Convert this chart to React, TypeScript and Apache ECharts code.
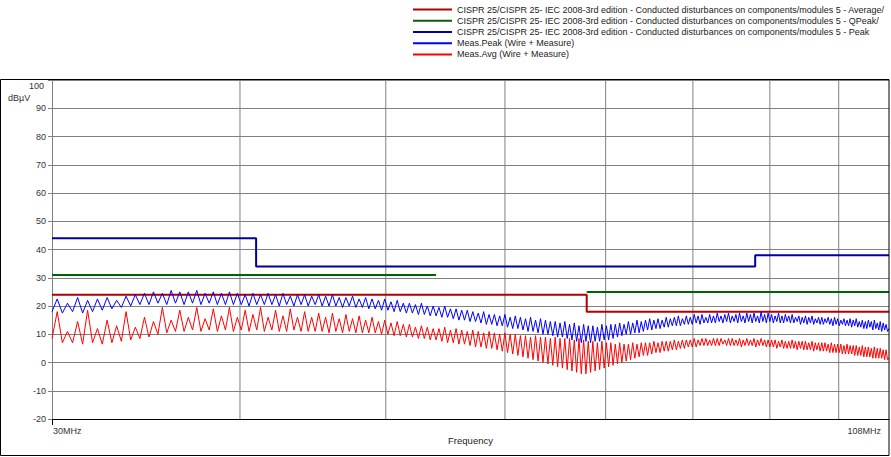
import React, { useEffect, useRef } from 'react';
import * as echarts from 'echarts';

// Sweep of the receiver: first frequency and step (MHz)
const SWEEP_START_MHZ = 30;
const SWEEP_STEP_MHZ = 0.24;

// Meas.Peak (Wire + Measure) in dBµV, one value per sweep step
const MEAS_PEAK = [
  18, 22.5, 17.5, 21, 18, 23, 17.5, 22, 18, 22.5,
  18.5, 23, 19, 22, 19.5, 23.5, 20, 24, 20.5, 24.5,
  20.5, 25, 21, 24.5, 20.5, 25.5, 21, 25, 20.5, 25,
  21, 25.5, 20.5, 24.5, 21, 25, 20.5, 24.5, 20.5, 25,
  20.5, 24.5, 20.5, 24, 20, 24.5, 20.5, 24, 20.5, 24.5,
  20.5, 24, 20, 24.5, 20.5, 23.5, 20, 24, 20.5, 24,
  20, 23.5, 20.5, 24, 20, 23.5, 20, 24, 20, 23,
  19.5, 23, 20, 23.5, 19.5, 22.5, 19.5, 23, 19, 22.5,
  19, 22, 18.5, 22.5, 18.5, 21.5, 18, 22, 18, 21,
  17.5, 21, 17.5, 20.5, 17, 21, 17, 20, 16.5, 20,
  16.5, 19.5, 16, 20, 16, 19, 15.5, 19, 15, 18.5,
  15, 18.5, 14.5, 18, 14.5, 17.5, 14, 18, 13.5, 17,
  13.5, 17, 13, 16.5, 13, 17, 12.5, 16, 12, 16.5,
  12, 16, 11.5, 15.5, 11, 16, 11, 15, 10.5, 15.5,
  10, 15, 10, 14.5, 9.5, 14.5, 9, 14, 9, 14.5,
  8.5, 13.5, 8, 14, 7.5, 13, 7, 13.5, 7.5, 13,
  7, 13, 7.5, 12.5, 7.5, 13.5, 8, 13, 8, 13.5,
  8.5, 13.5, 9, 14, 9.5, 13.5, 10, 14.5, 10, 14,
  10.5, 15, 10.5, 14.5, 11, 15, 11.5, 15.5, 11.5, 15,
  12, 15.5, 12, 15, 12.5, 16, 12.5, 15.5, 13, 16,
  13, 16.5, 13, 15.5, 13.5, 16.5, 13.5, 16, 13.5, 17,
  14, 16.5, 13.5, 17, 14, 16, 14, 17, 14, 16.5,
  14, 17.5, 14.5, 16.5, 14, 17, 14.5, 17.5, 14, 16.5,
  14.5, 17, 14, 17.5, 14.5, 16.5, 14, 17.5, 14.5, 17,
  14, 17.5, 14.5, 16.5, 14, 18, 14.5, 17, 14, 17.5,
  14.5, 17, 14, 16.5, 14.5, 17.5, 14, 16.5, 14, 17,
  14.5, 16.5, 14, 17, 14, 16, 14.5, 16.5, 13.5, 16,
  14, 16.5, 13.5, 16, 14, 16.5, 13.5, 15.5, 14, 16,
  13.5, 16, 13.5, 15.5, 14, 16, 13.5, 15.5, 13, 16,
  13.5, 15.5, 13, 15, 13.5, 15.5, 13, 15, 13, 15.5,
  12.5, 15, 13, 15.5, 12.5, 14.5, 12.5, 15, 12, 14.5,
  12, 15, 12.5, 14.5, 11.5, 15, 12, 14, 11.5, 14.5,
  11, 14, 11.5, 13.5, 11, 12,
];

// Meas.Avg (Wire + Measure) in dBµV, one value per sweep step
const MEAS_AVG = [
  8.5, 18, 7, 11, 7, 14.5, 6.5, 18.5, 7, 12,
  6.5, 15, 7, 13, 7.5, 18, 8, 12.5, 8.5, 16,
  9, 14.5, 10, 19.5, 10.5, 15, 11, 18.5, 11, 16,
  11.5, 19.5, 11, 15.5, 11.5, 19, 11, 16.5, 11.5, 19.5,
  11, 16, 11.5, 18.5, 11, 17, 11.5, 19.5, 11, 16,
  11.5, 18.5, 11, 16.5, 11, 19, 11.5, 16, 11, 18,
  11, 16, 11, 17.5, 11, 16, 10.5, 17.5, 11, 15.5,
  10.5, 17, 11, 15.5, 10.5, 16.5, 10.5, 15, 10.5, 16,
  10.5, 14.5, 10, 15, 10, 14, 9.5, 14.5, 9.5, 13.5,
  9, 13.5, 9, 12.5, 8.5, 13, 8.5, 12.5, 8, 12,
  8, 12, 7.5, 12.5, 7, 11.5, 7, 12, 6.5, 11.5,
  6.5, 11, 6, 11.5, 5.5, 11, 5.5, 10.5, 5, 11,
  5, 10.5, 4.5, 10, 4, 10.5, 3.5, 10, 3, 10,
  2.5, 9.5, 2, 9.5, 1.5, 9, 1, 9.5, 0.5, 9,
  0, 9, -0.5, 8.5, -1, 9, -1.5, 8.5, -2, 8.5,
  -2.5, 8.5, -3, 8, -3.5, 8.5, -4, 8, -4, 7.5,
  -3.5, 7.5, -3, 7, -2.5, 7.5, -2, 7, -1.5, 7,
  -1, 6.5, -0.5, 7, 0, 6.5, 0.5, 6.5, 1, 7,
  1.5, 6.5, 2, 7, 2.5, 7, 2.5, 7, 3, 7.5,
  3.5, 7, 3.5, 7.5, 4, 7.5, 4, 7.5, 4.5, 8,
  4.5, 7.5, 5, 8, 5, 8, 5.5, 8, 5.5, 8.5,
  5.5, 8, 6, 8.5, 6, 8.5, 6, 8, 6, 8.5,
  6, 8.5, 6, 8.5, 6.5, 8, 6, 8.5, 6, 8.5,
  6, 8, 6, 8.5, 5.5, 8, 6, 8.5, 6, 8,
  6, 8.5, 5.5, 8, 6, 8.5, 6, 8, 5.5, 8,
  5.5, 8, 5.5, 8, 5, 7.5, 5.5, 8, 5, 7.5,
  5, 7.5, 5, 8, 5, 7.5, 4.5, 7.5, 5, 7.5,
  4.5, 7.5, 4.5, 7, 4.5, 7.5, 4, 7, 4.5, 7,
  4, 7, 4, 7, 4, 6.5, 3.5, 7, 3.5, 6.5,
  3.5, 6.5, 3.5, 6.5, 3, 6, 3, 6.5, 3, 6,
  3, 6, 2.5, 6, 2.5, 5.5, 2.5, 6, 2, 5.5,
  2, 5.5, 2, 5, 1.5, 5.5, 1.5, 5, 1.5, 5,
  1.5, 4.5, 1, 4.5, 1, 1.5,
];

// Limit lines [MHz, dBµV]
const LIMIT_AVERAGE = [[30, 24], [68, 24], [68, 18], [108, 18]];
const LIMIT_QPEAK = [[30, 31], [54, 31], [60, '-'], [68, 25], [108, 25]];
const LIMIT_PEAK = [[30, 44], [41, 44], [41, 34], [88, 34], [88, 38], [108, 38]];

// Vertical grid frequencies (MHz)
const GRID_FREQS = [40, 50, 60, 70, 80, 90, 100];

const SERIES_NAMES = [
  'CISPR 25/CISPR 25- IEC 2008-3rd edition - Conducted disturbances on components/modules 5 - Average/',
  'CISPR 25/CISPR 25- IEC 2008-3rd edition - Conducted disturbances on components/modules 5 - QPeak/',
  'CISPR 25/CISPR 25- IEC 2008-3rd edition - Conducted disturbances on components/modules 5 - Peak',
  'Meas.Peak (Wire + Measure)',
  'Meas.Avg (Wire + Measure)',
];

const X_AXIS_NAME = 'Frequency';
const Y_UNIT = 'dBµV';
const X_TICK_LABELS = ['30MHz', '108MHz'];
const Y_TOP_LABEL = '100';

const FONT = '"Liberation Sans", Arial, sans-serif';

export default function App() {
  const ref = useRef<HTMLDivElement>(null);

  useEffect(() => {
    document.body.style.margin = '0';
    const chart = echarts.init(ref.current!, null, { renderer: 'svg' });

    const toSweep = (vals: number[]) =>
      vals.map((v, i) => [+(SWEEP_START_MHZ + i * SWEEP_STEP_MHZ).toFixed(2), v]);

    const gridSeries = GRID_FREQS.map((f) => ({
      type: 'line',
      data: [[f, -20], [f, 100]],
      symbol: 'none',
      silent: true,
      z: 1,
      lineStyle: { color: '#808080', width: 1 },
      animation: false,
    }));

    const limitStyle = (color: string) => ({
      type: 'line',
      symbol: 'none',
      z: 3,
      connectNulls: false,
      lineStyle: { color, width: 2 },
      itemStyle: { color },
      animation: false,
    });

    chart.setOption({
      animation: false,
      backgroundColor: '#ffffff',
      textStyle: { fontFamily: FONT },
      grid: { left: 52, right: 2, top: 80, bottom: 38 },
      legend: {
        data: SERIES_NAMES,
        orient: 'vertical',
        left: 407,
        top: -1,
        itemWidth: 39,
        itemHeight: 14,
        itemGap: 0,
        itemStyle: { opacity: 0 },
        textStyle: { fontSize: 9, color: '#222', fontFamily: FONT },
        selectedMode: false,
      },
      xAxis: {
        type: 'log',
        logBase: 10,
        min: 30,
        max: 108,
        name: X_AXIS_NAME,
        nameLocation: 'middle',
        nameGap: 16,
        nameTextStyle: { fontSize: 9.5, color: '#222', fontFamily: FONT },
        axisLine: { show: true, onZero: false, lineStyle: { color: '#000', width: 1 } },
        axisTick: { show: false },
        axisLabel: { show: false },
        splitLine: { show: false },
        minorTick: { show: false },
        minorSplitLine: { show: false },
      },
      yAxis: {
        type: 'value',
        min: -20,
        max: 100,
        interval: 10,
        axisLine: { show: true, lineStyle: { color: '#808080', width: 1 } },
        axisTick: { show: true, length: 4, lineStyle: { color: '#808080' } },
        axisLabel: {
          fontSize: 9,
          color: '#333',
          margin: 6,
          padding: [0, 0, 6, 0],
          fontFamily: FONT,
          formatter: (v: number) => (v === 100 ? '' : String(v)),
        },
        splitLine: { show: true, lineStyle: { color: '#808080', width: 1 } },
      },
      graphic: [
        {
          type: 'rect',
          shape: { x: 0.5, y: 79.5, width: 888.5, height: 376 },
          style: { fill: 'none', stroke: '#000', lineWidth: 1 },
          silent: true,
          z: 10,
        },
        {
          type: 'line',
          shape: { x1: 52.5, y1: 419, x2: 52.5, y2: 425 },
          style: { stroke: '#000', lineWidth: 1 },
          silent: true,
        },
        {
          type: 'text',
          x: 8,
          y: 98,
          style: { text: Y_UNIT, fill: '#333', font: '9px ' + FONT, textVerticalAlign: 'middle' },
        },
        {
          type: 'text',
          x: 44,
          y: 86,
          style: { text: Y_TOP_LABEL, fill: '#333', font: '9px ' + FONT, textAlign: 'right', textVerticalAlign: 'middle' },
        },
        {
          type: 'text',
          x: 53,
          y: 431,
          style: { text: X_TICK_LABELS[0], fill: '#333', font: '9px ' + FONT, textAlign: 'left', textVerticalAlign: 'middle' },
        },
        {
          type: 'text',
          x: 881,
          y: 431,
          style: { text: X_TICK_LABELS[1], fill: '#333', font: '9px ' + FONT, textAlign: 'right', textVerticalAlign: 'middle' },
        },
      ],
      series: [
        ...gridSeries,
        { ...limitStyle('#b00000'), name: SERIES_NAMES[0], data: LIMIT_AVERAGE },
        { ...limitStyle('#006400'), name: SERIES_NAMES[1], data: LIMIT_QPEAK },
        { ...limitStyle('#0000a0'), name: SERIES_NAMES[2], data: LIMIT_PEAK },
        {
          type: 'line',
          name: SERIES_NAMES[3],
          data: toSweep(MEAS_PEAK),
          symbol: 'none',
          z: 4,
          lineStyle: { color: '#0000ff', width: 1 },
          itemStyle: { color: '#0000ff' },
          animation: false,
        },
        {
          type: 'line',
          name: SERIES_NAMES[4],
          data: toSweep(MEAS_AVG),
          symbol: 'none',
          z: 4,
          lineStyle: { color: '#ff0000', width: 1 },
          itemStyle: { color: '#ff0000' },
          animation: false,
        },
      ],
    });

    return () => chart.dispose();
  }, []);

  return <div ref={ref} style={{ width: 891, height: 457 }} />;
}
